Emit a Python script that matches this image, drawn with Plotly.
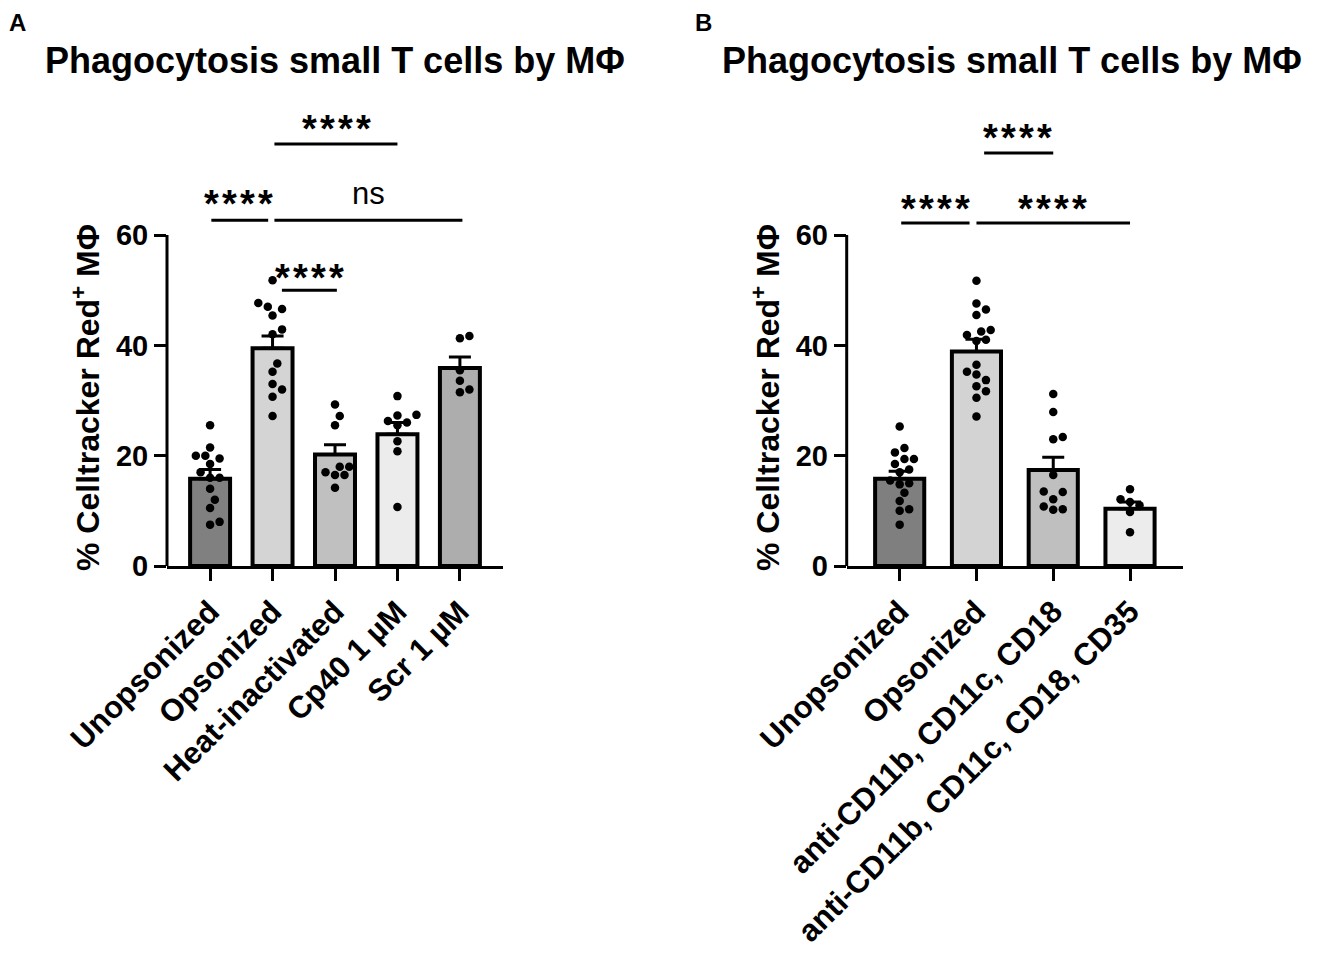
import numpy as np
import plotly.graph_objects as go

# ---- data ----
cats_a = ["Unopsonized", "Opsonized", "Heat-inactivated", "Cp40 1 µM", "Scr 1 µM"]
mean_a = [15.8, 39.5, 20.2, 23.9, 35.9]
sem_a = [1.7, 2.2, 1.8, 2.1, 2.0]
pts_a = [
    [25.5, 21.5, 20.0, 20.0, 19.5, 18.5, 17.0, 16.0, 16.0, 14.0, 12.0, 10.5, 8.0, 7.5],
    [51.8, 47.7, 47.0, 46.6, 45.4, 42.9, 42.0, 36.7, 35.2, 33.0, 32.0, 30.7, 27.2],
    [29.3, 27.2, 25.5, 18.0, 18.0, 17.0, 16.5, 16.5, 14.2],
    [30.8, 27.4, 27.3, 26.3, 26.0, 25.5, 22.6, 20.8, 10.7],
    [41.7, 41.3, 35.5, 33.6, 32.0, 31.5],
]
colors_a = ["#808080", "#d4d4d4", "#c0c0c0", "#ececec", "#adadad"]

cats_b = ["Unopsonized", "Opsonized", "anti-CD11b, CD11c, CD18", "anti-CD11b, CD11c, CD18, CD35"]
mean_b = [15.8, 38.9, 17.4, 10.4]
sem_b = [1.4, 2.2, 2.3, 1.2]
pts_b = [
    [25.3, 21.4, 20.6, 19.4, 19.4, 18.5, 17.5, 17.0, 15.5, 15.0, 14.8, 13.3, 11.8, 10.3, 10.0, 7.5],
    [51.7, 47.6, 46.5, 45.5, 42.8, 42.5, 41.9, 41.0, 40.8, 36.5, 35.2, 34.7, 33.7, 32.6, 31.7, 30.5, 27.1],
    [31.2, 27.9, 23.4, 23.0, 16.5, 13.5, 13.4, 12.1, 10.8, 10.3, 10.2],
    [13.9, 12.1, 11.6, 11.0, 9.8, 6.1],
]
colors_b = ["#7f7f7f", "#d3d3d3", "#bfbfbf", "#ececec"]

STARS = "*\u200a*\u200a*\u200a*"
# significance brackets: (x0, x1, y, label, label_x, label_y)
sig_a = [
    (1.03, 3.0, 76.5, STARS, 2.03, 81.2),
    (0.02, 0.93, 62.7, STARS, 0.45, 67.6),
    (1.03, 4.04, 62.7, "ns", 2.54, 67.6),
    (1.15, 2.03, 50.0, STARS, 1.59, 54.2),
]
sig_b = [
    (1.10, 2.0, 74.9, STARS, 1.54, 79.6),
    (0.02, 0.91, 62.2, STARS, 0.46, 66.7),
    (1.0, 3.0, 62.2, STARS, 1.99, 66.7),
]

# page puts the plot 8px in from the top-left corner
OFF = 8
W, H = 1324 - OFF, 969 - OFF
FONT = "Arial, Liberation Sans, sans-serif"


def px(x):
    return (x - OFF) / W


def py(y):
    return 1 - (y - OFF) / H


YTOP = 86.3
ydom = [py(566), py(90)]
yu = (566 - 90) / YTOP  # px per y unit


def swarm(vals, xu, d=9.5):
    # simple beeswarm: push dots sideways until they don't overlap
    vals = np.asarray(vals, dtype=float)
    placed = []
    offs = np.zeros(len(vals))
    step = d / 2
    for i in np.argsort(vals):
        ypx = vals[i] * yu
        cands = [0.0]
        for k in range(1, 30):
            cands += [k * step, -k * step]
        for dx in cands:
            if all(np.hypot(dx - qx, ypx - qy) >= d for qx, qy in placed):
                break
        placed.append((dx, ypx))
        offs[i] = dx / xu
    return offs


fig = go.Figure()


def panel(cats, means, sems, pts, colors, sig, xa, ya, xdom, title_x, ytitle_x, letter_x, letter):
    n = len(cats)
    xr = [-0.69, n - 1 + 0.69]
    xu = (xdom[1] - xdom[0]) * W / (xr[1] - xr[0])
    fig.add_trace(go.Bar(
        x=list(range(n)), y=means, width=0.64, xaxis=xa, yaxis=ya,
        marker=dict(color=colors, line=dict(color="black", width=4)),
        error_y=dict(type="data", array=sems, arrayminus=[0] * n, symmetric=False,
                     color="black", thickness=3, width=11),
        showlegend=False, hoverinfo="skip",
    ))
    for i, v in enumerate(pts):
        off = swarm(v, xu)
        fig.add_trace(go.Scatter(
            x=i + off, y=v, mode="markers", xaxis=xa, yaxis=ya,
            marker=dict(color="black", size=8.5), showlegend=False, cliponaxis=False,
        ))
    axn = "xaxis" if xa == "x" else "xaxis" + xa[1:]
    ayn = "yaxis" if ya == "y" else "yaxis" + ya[1:]
    fig.update_layout({
        axn: dict(domain=xdom, range=xr, anchor=ya, showline=True, linewidth=3, linecolor="black",
                  tickvals=list(range(n)), ticktext=cats, tickangle=-45, automargin=False,
                  ticks="outside", ticklen=12, tickwidth=3, tickcolor="black",
                  tickfont=dict(family=FONT, size=31, color="black", weight="bold"),
                  showgrid=False, zeroline=False, fixedrange=True),
        ayn: dict(domain=ydom, range=[0, YTOP], anchor=xa, showline=False, automargin=False,
                  tickvals=[0, 20, 40, 60], ticks="outside", ticklen=12, tickwidth=3,
                  tickcolor="black", tickfont=dict(family=FONT, size=29, color="black", weight="bold"),
                  showgrid=False, zeroline=False, fixedrange=True),
    })
    # y axis line only up to 60
    fig.add_shape(type="line", xref=xa + " domain", yref=ya, x0=0, x1=0, y0=0, y1=60,
                  line=dict(color="black", width=3))
    for x0, x1, yl, lab, lx, ly in sig:
        fig.add_shape(type="line", xref=xa, yref=ya, x0=x0, x1=x1, y0=yl, y1=yl,
                      line=dict(color="black", width=3))
        star = lab != "ns"
        fig.add_annotation(x=lx, y=ly - (2.0 if star else 0), xref=xa, yref=ya, text=lab,
                           showarrow=False, xanchor="center", yanchor="middle",
                           font=dict(family=FONT, size=38 if star else 31, color="black",
                                     weight="bold" if star else "normal"))
    fig.add_annotation(x=title_x, y=py(60), xref="paper", yref="paper",
                       xanchor="center", yanchor="middle",
                       text="Phagocytosis small T cells by MΦ", showarrow=False,
                       font=dict(family=FONT, size=36, color="black", weight="bold"))
    fig.add_annotation(x=ytitle_x, y=py(398), xref="paper", yref="paper",
                       xanchor="center", yanchor="middle",
                       text="% Celltracker Red<sup>+</sup> MΦ", showarrow=False, textangle=-90,
                       font=dict(family=FONT, size=32, color="black", weight="bold"))
    fig.add_annotation(x=letter_x, y=1, xref="paper", yref="paper", text=letter,
                       showarrow=False, xanchor="left", yanchor="top", borderpad=0,
                       font=dict(family=FONT, size=24, color="black", weight="bold"))


panel(cats_a, mean_a, sem_a, pts_a, colors_a, sig_a, "x", "y",
      [px(167), px(503)], px(335), px(86), px(8), "A")
panel(cats_b, mean_b, sem_b, pts_b, colors_b, sig_b, "x2", "y2",
      [px(846.7), px(1183)], px(1012), px(766), px(694), "B")

fig.update_layout(width=W, height=H, margin=dict(l=0, r=0, t=0, b=0),
                  plot_bgcolor="white", paper_bgcolor="white", bargap=0.36)

fig.write_html("out.html")
